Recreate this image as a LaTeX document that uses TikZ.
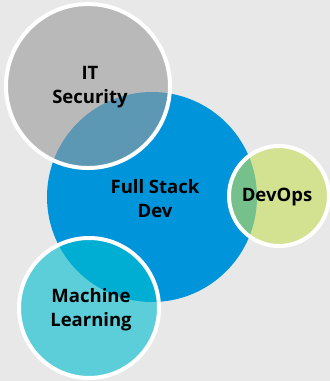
\documentclass[tikz,border=0pt]{standalone}
\usepackage{fontspec}
\setmainfont{Open Sans}
\begin{document}
\begin{tikzpicture}[x=1pt,y=-1pt,
  bub/.style={circle,draw=white,line width=4pt,fill opacity=0.6,draw opacity=1},
  lbl/.style={font=\bfseries\fontsize{18.5}{24}\selectfont,align=center,text=black,inner sep=0pt}]
\definecolor{bg}{HTML}{E8E8E8}
\definecolor{fsblue}{HTML}{0095DB}
\definecolor{itgray}{HTML}{9A9A9A}
\definecolor{dogreen}{HTML}{C5DE58}
\definecolor{mlcyan}{HTML}{00BECF}
\fill[bg] (0,0) rectangle (330,381);
\useasboundingbox (0,0) rectangle (330,381);
\fill[fsblue] (152,197) circle (105);
\path[bub,fill=itgray] (88,86) circle (82);
\path[bub,fill=dogreen] (279,196) circle (50);
\path[bub,fill=mlcyan] (89,308) circle (70);
\node[lbl] (it) at (90,87) {IT\\Security};
\node[lbl] (fs) at (155,199) {Full Stack\\Dev};
\node[lbl] (do) at (277,197) {DevOps};
\node[lbl] (ml) at (91,310) {Machine\\Learning};
\end{tikzpicture}
\end{document}
